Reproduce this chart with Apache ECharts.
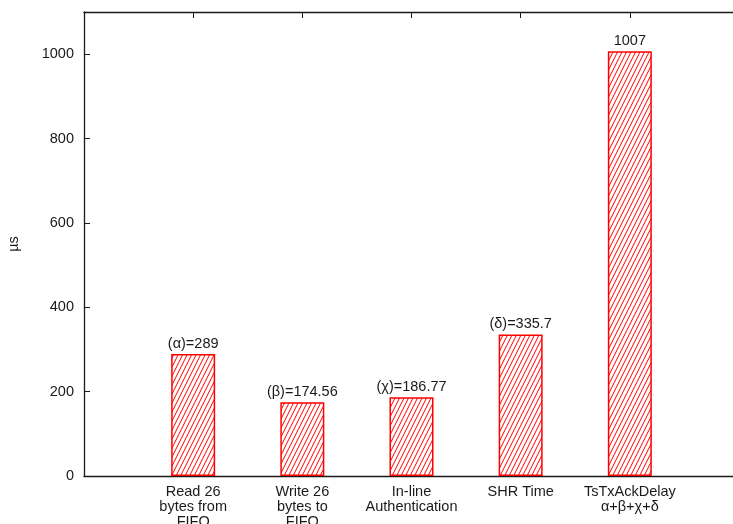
<!DOCTYPE html>
<html>
<head>
<meta charset="utf-8">
<script src="https://cdn.jsdelivr.net/npm/echarts@6/dist/echarts.min.js"></script>
<style>
  html, body { margin: 0; padding: 0; background: #fff; overflow: hidden; }
  #chart { width: 733px; height: 524px; }
</style>
</head>
<body>
<div id="chart"></div>
<script>
// Timing breakdown of a single acknowledgement (microseconds)
const categories = [
  'Read 26\nbytes from\nFIFO',
  'Write 26\nbytes to\nFIFO',
  'In-line\nAuthentication',
  'SHR Time',
  'TsTxAckDelay\nα+β+χ+δ'
];
const positions = [1, 2, 3, 4, 5];
const values = [289, 174.56, 186.77, 335.7, 1007];
const valuePrefixes = ['(α)=', '(β)=', '(χ)=', '(δ)=', ''];
const yTicks = [0, 200, 400, 600, 800, 1000];

const FONT = "'Liberation Sans', Arial, Helvetica, sans-serif";
const INK = '#1a1a1a';

// Diagonal red hatching used as the bar fill
function makeHatch() {
  const w = 9, h = 18;
  const c = document.createElement('canvas');
  c.width = w; c.height = h;
  const ctx = c.getContext('2d');
  ctx.strokeStyle = '#ff0000';
  ctx.lineWidth = 1;
  for (let k = -3; k <= 3; k++) {
    const x0 = k * 4.5;
    ctx.beginPath();
    ctx.moveTo(x0, h);
    ctx.lineTo(x0 + w, 0);
    ctx.stroke();
  }
  return c;
}

const chart = echarts.init(document.getElementById('chart'), null, { renderer: 'canvas' });

const axisLine = { show: true, onZero: false, lineStyle: { color: INK, width: 1.3 } };
const innerTick = { show: true, inside: true, length: 6, lineStyle: { color: INK, width: 1 } };

chart.setOption({
  backgroundColor: '#ffffff',
  animation: false,
  grid: {
    left: 84, right: -6, top: 12, bottom: 48,
    containLabel: false,
    outerBoundsMode: 'none'
  },
  xAxis: [
    {
      type: 'value',
      position: 'bottom',
      min: 0, max: 6, interval: 1,
      axisLine: axisLine,
      axisTick: { show: false },
      splitLine: { show: false },
      axisLabel: {
        margin: 8,
        color: INK,
        fontFamily: FONT,
        fontSize: 14.5,
        lineHeight: 15.3,
        formatter: function (v) {
          const i = positions.indexOf(v);
          return i >= 0 ? categories[i] : '';
        }
      }
    },
    {
      type: 'value',
      position: 'top',
      min: 0, max: 6, interval: 1,
      axisLine: axisLine,
      axisTick: innerTick,
      axisLabel: { show: false },
      splitLine: { show: false }
    }
  ],
  yAxis: [
    {
      type: 'value',
      position: 'left',
      min: 0, max: 1100, interval: 200,
      axisLine: axisLine,
      axisTick: innerTick,
      splitLine: { show: false },
      axisLabel: {
        margin: 10,
        color: INK,
        fontFamily: FONT,
        fontSize: 14.5,
        showMaxLabel: false,
        formatter: function (v) { return yTicks.indexOf(v) >= 0 ? String(v) : ''; }
      },
      name: 'µs',
      nameLocation: 'middle',
      nameRotate: 90,
      nameGap: 63,
      nameTextStyle: { color: INK, fontFamily: FONT, fontSize: 14.5 }
    },
    {
      type: 'value',
      position: 'right',
      min: 0, max: 1100, interval: 200,
      axisLine: axisLine,
      axisTick: innerTick,
      axisLabel: { show: false },
      splitLine: { show: false }
    }
  ],
  series: [
    {
      type: 'bar',
      xAxisIndex: 0,
      yAxisIndex: 0,
      barWidth: 44,
      data: positions.map((p, i) => [p, values[i]]),
      itemStyle: {
        color: { image: makeHatch(), repeat: 'repeat' },
        borderColor: '#ff0000',
        borderWidth: 1.5
      },
      label: {
        show: true,
        position: 'top',
        distance: 3,
        color: INK,
        fontFamily: FONT,
        fontSize: 14.5,
        formatter: function (p) { return valuePrefixes[p.dataIndex] + values[p.dataIndex]; }
      }
    }
  ]
});
</script>
</body>
</html>
